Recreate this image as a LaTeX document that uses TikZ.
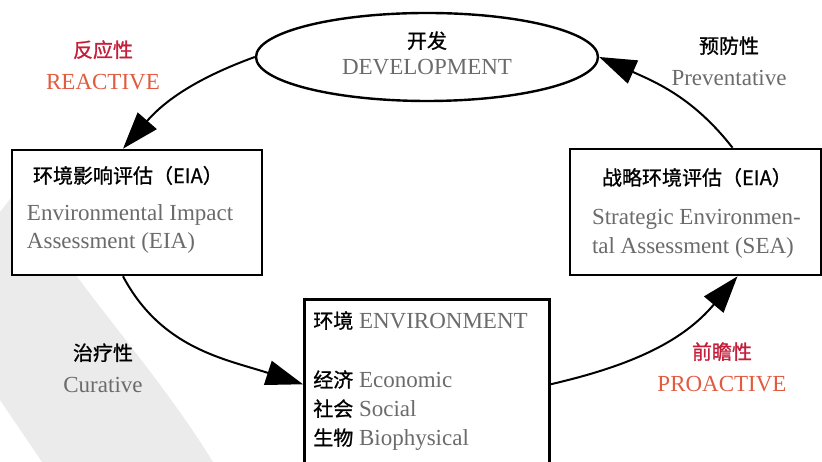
\documentclass[tikz,border=0pt]{standalone}
\usepackage{fontspec}
\setmainfont{Liberation Serif}
\newfontfamily\cjk[FakeBold=1]{Noto Sans CJK SC}
\usepackage{tikz}
\usetikzlibrary{shapes.geometric,arrows.meta}

\definecolor{zhred}{HTML}{C41E3A}
\definecolor{enred}{HTML}{E25A3F}
\definecolor{engray}{HTML}{6B6B6B}
\definecolor{bandgray}{HTML}{EBEBEB}

\newcommand{\zh}[1]{{\cjk\fontsize{20}{20}\selectfont #1}}
\newcommand{\en}[1]{{\color{engray}#1}}

\tikzset{
  box/.style={draw, line width=2.6pt, fill=white, rectangle, inner sep=0pt},
  flow/.style={-{Triangle[length=37pt,width=25pt]}, line width=2pt},
  tag/.style={align=center, font=\fontsize{23}{32}\selectfont},
}

\begin{document}
\begin{tikzpicture}[x=1pt,y=1pt]
            \useasboundingbox (0,0) rectangle (822,462);
            \clip (0,0) rectangle (822,462);

            % faint band behind the left side
            \fill[bandgray] (0,250) -- (25,282) -- (76,187) .. controls (110,140) and (170,70) .. (213,0) -- (42,0) -- (0,62) -- cycle;

            \node[draw, ellipse, line width=2.4pt, minimum width=342pt, minimum height=88pt, inner sep=0pt] (dev) at (427,405)
                {\begin{minipage}{200pt}\centering\fontsize{23}{26}\selectfont
                 \zh{开发}\\\en{DEVELOPMENT}\par\vspace{8pt}
                 \end{minipage}};

            \node[box] (eia) at (137,249.5)
                {\begin{minipage}[c][125pt][t]{250pt}\leftskip=15pt\fontsize{23}{28}\selectfont
                 \vspace*{16pt}
                 \hspace*{6pt}\zh{环境影响评估（EIA）}\\[9pt]
                 \en{Environmental Impact}\\
                 \en{Assessment (EIA)}
                 \end{minipage}};
            \node[box] (sea) at (695.5,250)
                {\begin{minipage}[c][126pt][t]{251pt}\leftskip=22pt\fontsize{23}{29}\selectfont
                 \vspace*{19pt}
                 \hspace*{10pt}\zh{战略环境评估（EIA）}\\[10pt]
                 \en{Strategic Environmen-}\\
                 \en{tal Assessment (SEA)}
                 \end{minipage}};
            \node[box, anchor=north west] (env) at (303,164)
                {\begin{minipage}[c][170pt][t]{245pt}\leftskip=9pt\fontsize{23}{29}\selectfont
                 \vspace*{12pt}
                 \zh{环境} \en{ENVIRONMENT}\\[30pt]
                 \zh{经济} \en{Economic}\\
                 \zh{社会} \en{Social}\\
                 \zh{生物} \en{Biophysical}
                 \end{minipage}};

            \node[tag] (reactive) at (103,397) {\zh{\color{zhred}反应性}\\{\color{enred}REACTIVE}};
            \node[tag] (preventative) at (729,401) {\zh{预防性}\\\en{Preventative}};
            \node[tag] (curative) at (103,94) {\zh{治疗性}\\\en{Curative}};
            \node[tag] (proactive) at (722,95) {\zh{\color{zhred}前瞻性}\\{\color{enred}PROACTIVE}};

            \draw[flow] (dev.west) to[out=200, in=49] ([xshift=-14pt]eia.north);
            \draw[flow] ([xshift=-14pt]eia.south) to[out=-62, in=162] (env.west);
            \draw[flow] (env.east) to[out=13, in=230] ([xshift=42pt]sea.south);
            \draw[flow] ([xshift=37pt]sea.north) to[out=128, in=-24] (dev.east);
        \end{tikzpicture}
\end{document}
